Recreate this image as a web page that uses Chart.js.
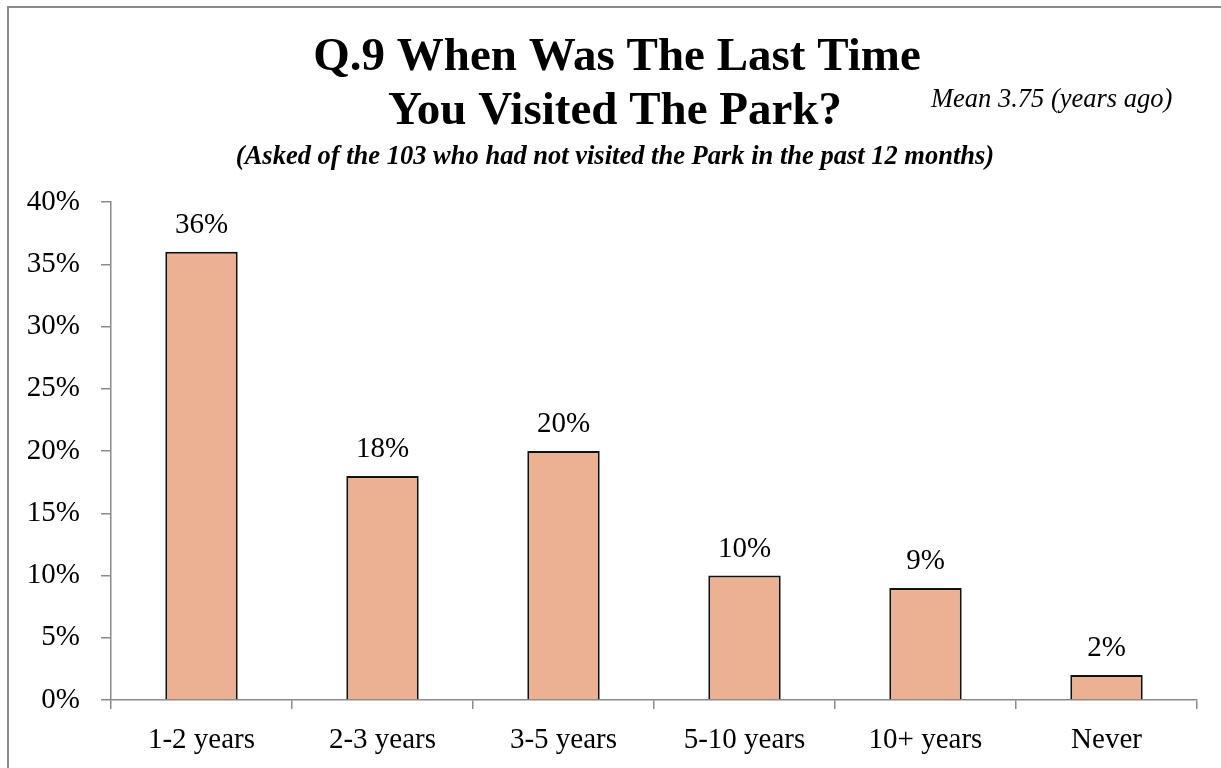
<!DOCTYPE html>
<html>
<head>
<meta charset="utf-8">
<script src="https://cdn.jsdelivr.net/npm/chart.js@4.4.1/dist/chart.umd.min.js"></script>
<style>
  html, body { margin: 0; padding: 0; background: #fff; overflow: hidden; }
  #frame { position: absolute; left: 7px; top: 6px; width: 1240px; height: 800px; border: 2px solid #8a8a8a; box-sizing: border-box; }
  #wrap { position: absolute; left: 0; top: 0; width: 1221px; height: 768px; }
</style>
</head>
<body>
<div id="frame"></div>
<div id="wrap"><canvas id="c" width="1221" height="768"></canvas></div>
<script>
const categories = ["1-2 years", "2-3 years", "3-5 years", "5-10 years", "10+ years", "Never"];
const percentValues = [36, 18, 20, 10, 9, 2];
const yTickMin = 0;
const yTickMax = 40;
const yTickStep = 5;
const titleLines = ["Q.9 When Was The Last Time", "You Visited The Park?"];
const subtitleText = "(Asked of the 103 who had not visited the Park in the past 12 months)";
const meanText = "Mean 3.75 (years ago)";

const SERIF = '"Liberation Serif", "Times New Roman", serif';

const textPlugin = {
  id: 'texts',
  afterDraw(chart) {
    const ctx = chart.ctx;
    ctx.save();
    ctx.fillStyle = '#000';
    ctx.textAlign = 'center';
    ctx.textBaseline = 'middle';
    ctx.font = 'bold 47px ' + SERIF;
    ctx.fillText(titleLines[0], 617, 58);
    ctx.fillText(titleLines[1], 615, 112);
    ctx.font = 'italic bold 26.5px ' + SERIF;
    ctx.fillText(subtitleText, 615, 157);
    ctx.font = 'italic 26.5px ' + SERIF;
    ctx.textAlign = 'left';
    ctx.fillText(meanText, 931, 100);
    // data labels
    const meta = chart.getDatasetMeta(0);
    ctx.font = '29px ' + SERIF;
    ctx.textAlign = 'center';
    ctx.textBaseline = 'alphabetic';
    meta.data.forEach((bar, i) => {
      ctx.fillText(percentValues[i] + '%', bar.x, bar.y - 19);
    });
    ctx.restore();
  }
};

new Chart(document.getElementById('c'), {
  type: 'bar',
  data: {
    labels: categories,
    datasets: [{
      data: percentValues,
      backgroundColor: '#EBB192',
      borderColor: '#111111',
      borderWidth: 2,
      categoryPercentage: 0.4,
      barPercentage: 1.0
    }]
  },
  options: {
    responsive: false,
    animation: false,
    devicePixelRatio: 1,
    layout: { padding: { left: 0, right: 24, top: 202, bottom: 0 } },
    plugins: { legend: { display: false }, tooltip: { enabled: false }, title: { display: false } },
    scales: {
      y: {
        min: yTickMin,
        max: yTickMax,
        ticks: {
          stepSize: yTickStep,
          color: '#000',
          font: { family: SERIF, size: 29 },
          padding: 21,
          callback: v => v + '%'
        },
        grid: { display: true, drawOnChartArea: false, drawTicks: true, tickLength: 10, color: '#8a8a8a', lineWidth: 1.5 },
        border: { display: true, color: '#8a8a8a', width: 1.5 },
        afterFit: s => { s.width = 111; }
      },
      x: {
        ticks: { color: '#000', font: { family: SERIF, size: 29 }, padding: 14 },
        grid: { display: true, offset: true, drawOnChartArea: false, drawTicks: true, tickLength: 9, color: '#8a8a8a', lineWidth: 1.5 },
        border: { display: true, color: '#8a8a8a', width: 1.5 },
        afterFit: s => { s.height = 68; }
      }
    }
  },
  plugins: [textPlugin]
});
</script>
</body>
</html>
